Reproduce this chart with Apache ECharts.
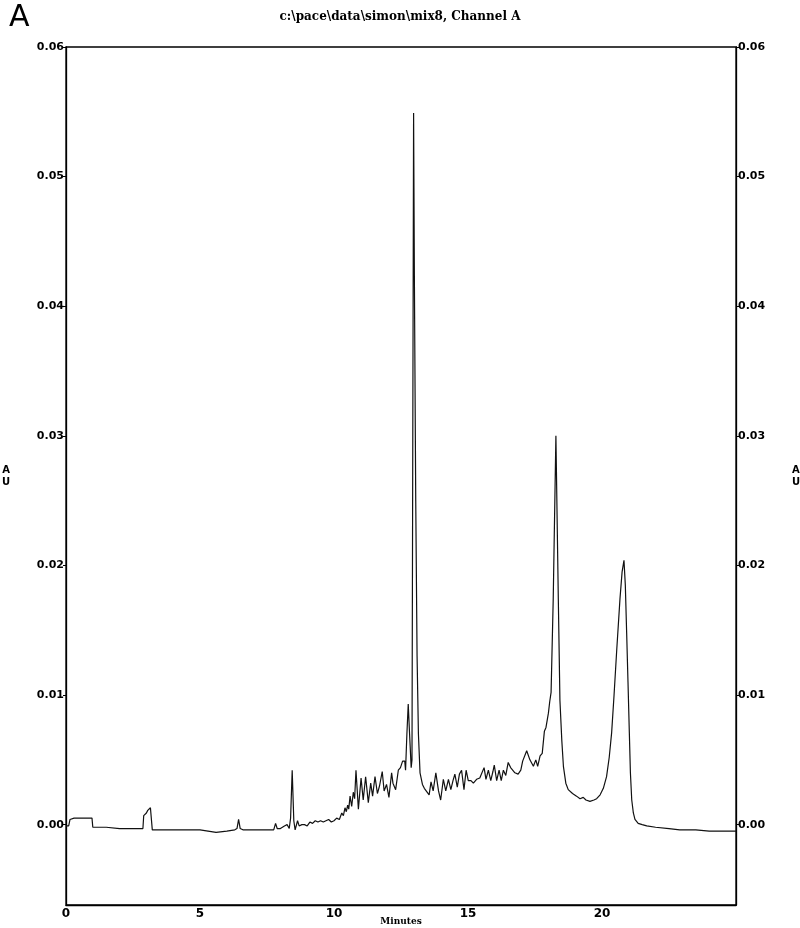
<!DOCTYPE html>
<html>
<head>
<meta charset="utf-8">
<script src="https://cdn.jsdelivr.net/npm/echarts@6/dist/echarts.min.js"></script>
<style>
html,body{margin:0;padding:0;background:#fff;}
#chart{width:800px;height:928px;}
</style>
</head>
<body>
<div id="chart"></div>
<script>
// ---- data ----
const chartTitle = 'c:\\pace\\data\\simon\\mix8, Channel A';
const panelLabel = 'A';
const xAxisName = 'Minutes';
const yAxisName = 'A\nU';
const xTickLabels = [0, 5, 10, 15, 20];
const yTickLabels = [0, 0.01, 0.02, 0.03, 0.04, 0.05, 0.06];

const minutes = [
  0.00, 0.10, 0.15, 0.30, 0.60, 0.97, 1.00, 1.50, 2.00, 2.50, 2.87, 2.90, 2.97, 3.00, 3.05, 3.15, 3.22,
  3.50, 4.00, 4.50, 5.00, 5.30, 5.60, 6.00, 6.30, 6.38, 6.44, 6.50, 6.60, 7.00, 7.50, 7.75, 7.82, 7.88,
  8.00, 8.15, 8.25, 8.33, 8.38, 8.44, 8.50, 8.55, 8.64, 8.70, 8.80, 8.90, 9.00, 9.10, 9.20, 9.30, 9.40,
  9.50, 9.60, 9.70, 9.80, 9.90, 10.00, 10.10, 10.20, 10.29, 10.35, 10.41, 10.46, 10.51, 10.55, 10.60,
  10.66, 10.72, 10.77, 10.82, 10.91, 11.01, 11.09, 11.18, 11.28, 11.37, 11.44, 11.53, 11.62, 11.70,
  11.80, 11.87, 11.96, 12.05, 12.15, 12.20, 12.30, 12.40, 12.48, 12.56, 12.64, 12.67, 12.72, 12.77,
  12.82, 12.88, 12.91, 12.94, 12.97, 13.00, 13.05, 13.10, 13.15, 13.21, 13.30, 13.37, 13.43, 13.55,
  13.62, 13.70, 13.80, 13.90, 13.98, 14.08, 14.17, 14.27, 14.36, 14.44, 14.51, 14.60, 14.68, 14.76,
  14.85, 14.93, 15.01, 15.11, 15.20, 15.32, 15.44, 15.51, 15.60, 15.67, 15.76, 15.85, 15.93, 15.98,
  16.07, 16.16, 16.24, 16.32, 16.41, 16.50, 16.59, 16.66, 16.75, 16.87, 16.97, 17.04, 17.19, 17.31,
  17.44, 17.53, 17.60, 17.69, 17.77, 17.85, 17.91, 18.00, 18.05, 18.10, 18.18, 18.28, 18.37, 18.43,
  18.50, 18.56, 18.65, 18.74, 18.90, 19.05, 19.18, 19.30, 19.40, 19.55, 19.70, 19.80, 19.93, 20.05,
  20.17, 20.27, 20.36, 20.45, 20.55, 20.67, 20.75, 20.82, 20.87, 20.92, 20.97, 21.02, 21.06, 21.11,
  21.17, 21.23, 21.35, 21.50, 21.67, 22.00, 22.50, 22.90, 23.50, 24.00, 24.50, 25.00
];

const absorbance = [
  -0.0001, -0.0001, 0.0004, 0.0005, 0.0005, 0.0005, -0.0002, -0.0002, -0.0003, -0.0003, -0.0003, 0.0007, 0.0008, 0.0009, 0.0011, 0.0013, -0.0004,
  -0.0004, -0.0004, -0.0004, -0.0004, -0.0005, -0.0006, -0.0005, -0.0004, -0.0003, 0.0004, -0.0003, -0.0004, -0.0004, -0.0004, -0.0004, 0.0001, -0.0003,
  -0.0003, -0.0001, 0.0000, -0.0003, 0.0005, 0.0042, 0.0003, -0.0004, 0.0003, -0.0001, 0.0000, 0.0000, -0.0001, 0.0002, 0.0001, 0.0003, 0.0002,
  0.0003, 0.0002, 0.0003, 0.0004, 0.0002, 0.0003, 0.0005, 0.0004, 0.0009, 0.0007, 0.0013, 0.0010, 0.0015, 0.0012, 0.0022,
  0.0014, 0.0025, 0.0020, 0.0042, 0.0012, 0.0036, 0.0019, 0.0037, 0.0017, 0.0032, 0.0022, 0.0037, 0.0024, 0.0030,
  0.0041, 0.0026, 0.0031, 0.0021, 0.0040, 0.0032, 0.0027, 0.0042, 0.0044, 0.0049, 0.0049, 0.0042, 0.0070, 0.0093,
  0.0070, 0.0044, 0.0050, 0.0300, 0.0549, 0.0420, 0.0250, 0.0130, 0.0070, 0.0040, 0.0031, 0.0028, 0.0029, 0.0023,
  0.0033, 0.0026, 0.0040, 0.0026, 0.0019, 0.0035, 0.0026, 0.0035, 0.0027, 0.0034, 0.0039, 0.0029, 0.0039, 0.0042,
  0.0027, 0.0042, 0.0034, 0.0034, 0.0032, 0.0035, 0.0036, 0.0035, 0.0044, 0.0035, 0.0042, 0.0034, 0.0041, 0.0046,
  0.0034, 0.0042, 0.0034, 0.0042, 0.0038, 0.0048, 0.0044, 0.0045, 0.0040, 0.0039, 0.0042, 0.0049, 0.0057, 0.0050,
  0.0045, 0.0050, 0.0045, 0.0053, 0.0055, 0.0072, 0.0075, 0.0086, 0.0095, 0.0102, 0.0174, 0.0300, 0.0174, 0.0096,
  0.0065, 0.0045, 0.0032, 0.0027, 0.0024, 0.0022, 0.0020, 0.0021, 0.0019, 0.0018, 0.0019, 0.0020, 0.0023, 0.0028,
  0.0037, 0.0052, 0.0071, 0.0100, 0.0135, 0.0174, 0.0195, 0.0204, 0.0185, 0.0148, 0.0110, 0.0071, 0.0040, 0.0019,
  0.0009, 0.0004, 0.0001, 0.0000, -0.0001, -0.0002, -0.0003, -0.0004, -0.0004, -0.0005, -0.0005, -0.0005
];

// ---- chart ----
const seriesData = minutes.map((t, i) => [t, absorbance[i]]);
const labelFont = { color: '#000', fontFamily: 'DejaVu Sans', fontWeight: 'bold', fontSize: 11 };

function yAxisDef(pos) {
  return {
    type: 'value',
    position: pos,
    min: -0.0062,
    max: 0.06,
    axisLine: { show: true, onZero: false, lineStyle: { color: '#000', width: 1.3 } },
    axisTick: { show: true, length: 3, inside: false, customValues: yTickLabels, lineStyle: { color: '#000', width: 1 } },
    axisLabel: Object.assign({ customValues: yTickLabels, margin: 2, formatter: v => v.toFixed(2) }, labelFont),
    splitLine: { show: false },
    name: yAxisName,
    nameLocation: 'middle',
    nameRotate: 0,
    nameGap: 56,
    nameMoveOverlap: false,
    nameTextStyle: { color: '#000', fontFamily: 'DejaVu Sans', fontWeight: 'bold', fontSize: 10, lineHeight: 12 }
  };
}

const chart = echarts.init(document.getElementById('chart'), null, { renderer: 'canvas' });
chart.setOption({
  animation: false,
  backgroundColor: '#fff',
  title: [
    { text: chartTitle, left: 'center', top: 6,
      textStyle: { color: '#000', fontFamily: 'DejaVu Serif', fontWeight: 'bold', fontSize: 12 } },
    { text: panelLabel, left: 4, top: -2,
      textStyle: { color: '#000', fontFamily: 'DejaVu Sans', fontWeight: 'normal', fontSize: 30 } }
  ],
  grid: { left: 66, right: 64, top: 47, bottom: 23, containLabel: false, outerBoundsMode: 'none',
          show: true, borderColor: '#000', borderWidth: 1.3, backgroundColor: 'transparent' },
  xAxis: {
    type: 'value',
    min: 0,
    max: 25,
    axisLine: { show: true, onZero: false, lineStyle: { color: '#000', width: 1.3 } },
    axisTick: { show: false },
    axisLabel: Object.assign({ customValues: xTickLabels, margin: 3 }, labelFont, { fontSize: 12 }),
    splitLine: { show: false },
    name: xAxisName,
    nameLocation: 'middle',
    nameGap: 12,
    nameMoveOverlap: false,
    nameTextStyle: { color: '#000', fontFamily: 'DejaVu Serif', fontWeight: 'bold', fontSize: 9 }
  },
  yAxis: [yAxisDef('left'), yAxisDef('right')],
  series: [{
    type: 'line',
    data: seriesData,
    yAxisIndex: 0,
    showSymbol: false,
    symbol: 'none',
    lineStyle: { color: '#111', width: 1.2 },
    z: 3
  }]
});
</script>
</body>
</html>
